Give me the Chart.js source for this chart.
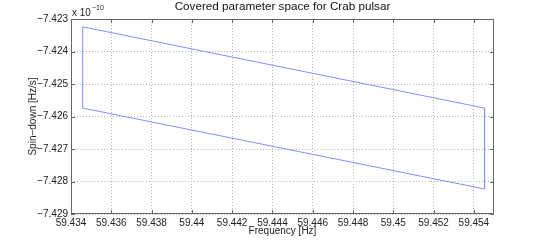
<!DOCTYPE html>
<html><head><meta charset="utf-8">
<script src="https://cdn.jsdelivr.net/npm/chart.js@4/dist/chart.umd.min.js"></script>
<style>html,body{margin:0;padding:0;background:#fff}#wrap{width:545px;height:241px}</style>
</head><body><div id="wrap"><canvas id="c" width="545" height="241"></canvas></div>
<script>
// Polygon corners of covered parameter space (frequency in Hz, spin-down in units of 1e-10 Hz/s)
const freq = [59.43458, 59.45453, 59.45453, 59.43458, 59.43458];
const spindown = [-7.42324, -7.42574, -7.42823, -7.42574, -7.42324];
const xTicks = [59.434, 59.436, 59.438, 59.44, 59.442, 59.444, 59.446, 59.448, 59.45, 59.452, 59.454];
const yTicks = [-7.429, -7.428, -7.427, -7.426, -7.425, -7.424, -7.423];
const titleText = 'Covered parameter space for Crab pulsar';
const xLabel = 'Frequency [Hz]';
const yLabel = 'Spin\u2212down [Hz/s]';

const FONT = 'Liberation Sans, Arial, Helvetica, sans-serif';
const points = freq.map((f, i) => ({x: f, y: spindown[i]}));

const framePlugin = {
  id: 'frame',
  afterDraw(chart) {
    const {ctx, chartArea: a, scales} = chart;
    ctx.save();
    ctx.strokeStyle = '#666';
    ctx.lineWidth = 1;
    ctx.beginPath();
    ctx.rect(Math.round(a.left) + 0.5, Math.round(a.top) + 0.5, Math.round(a.right - a.left) - 1, Math.round(a.bottom - a.top) - 1);
    ctx.stroke();
    // inward tick marks
    ctx.beginPath();
    const L = 4;
    xTicks.forEach(v => {
      const px = Math.round(scales.x.getPixelForValue(v)) + 0.5;
      ctx.moveTo(px, a.bottom); ctx.lineTo(px, a.bottom - L);
      ctx.moveTo(px, a.top); ctx.lineTo(px, a.top + L);
    });
    yTicks.forEach(v => {
      const py = Math.round(scales.y.getPixelForValue(v)) + 0.5;
      ctx.moveTo(a.left, py); ctx.lineTo(a.left + L, py);
      ctx.moveTo(a.right, py); ctx.lineTo(a.right - L, py);
    });
    ctx.stroke();
    // exponent label
    ctx.fillStyle = '#222';
    ctx.textBaseline = 'alphabetic';
    ctx.font = '10px ' + FONT;
    const base = 'x 10';
    ctx.fillText(base, a.left + 1, a.top - 3);
    const w = ctx.measureText(base).width;
    ctx.font = '7px ' + FONT;
    ctx.fillText('\u221210', a.left + 1 + w + 1, a.top - 9);
    ctx.restore();
  }
};

new Chart(document.getElementById('c'), {
  type: 'scatter',
  data: {
    datasets: [{
      data: points,
      showLine: true,
      borderColor: '#7f8fff',
      borderWidth: 1,
      pointRadius: 0,
      fill: false,
      tension: 0
    }]
  },
  options: {
    responsive: false,
    animation: false,
    layout: {padding: {top: 0, right: 51, bottom: 0, left: 0}},
    plugins: {
      legend: {display: false},
      tooltip: {enabled: false},
      title: {
        display: true,
        text: titleText,
        fullSize: false,
        color: '#111',
        font: {family: FONT, size: 11.7, weight: 'normal'},
        padding: {top: 0, bottom: 5}
      }
    },
    scales: {
      x: {
        type: 'linear',
        min: 59.434,
        max: 59.455,
        afterBuildTicks: s => { s.ticks = xTicks.map(v => ({value: v})); },
        afterFit: s => { s.height = 27; },
        border: {display: false, dash: [1, 2]},
        grid: {color: '#b4b4b4', lineWidth: 1, drawTicks: false, tickLength: 0},
        ticks: {
          color: '#222', font: {family: FONT, size: 10}, padding: 3, maxRotation: 0, autoSkip: false,
          callback: v => String(parseFloat(Number(v).toFixed(3)))
        },
        title: {display: true, text: xLabel, color: '#222', font: {family: FONT, size: 10}, padding: {top: 0, bottom: 4}}
      },
      y: {
        type: 'linear',
        min: -7.429,
        max: -7.423,
        afterBuildTicks: s => { s.ticks = yTicks.map(v => ({value: v})); },
        afterFit: s => { s.width = 71; },
        border: {display: false, dash: [1, 2]},
        grid: {color: '#b4b4b4', lineWidth: 1, drawTicks: false, tickLength: 0},
        ticks: {
          color: '#222', font: {family: FONT, size: 10}, padding: 3, autoSkip: false,
          callback: v => '\u2212' + Math.abs(v).toFixed(3)
        },
        title: {display: true, text: yLabel, color: '#222', font: {family: FONT, size: 10}, padding: {top: 27, bottom: 0}}
      }
    }
  },
  plugins: [framePlugin]
});
</script></body></html>
